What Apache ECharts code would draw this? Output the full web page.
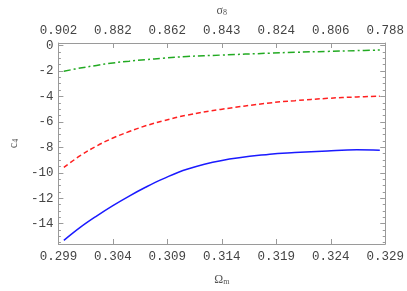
<!DOCTYPE html>
<html><head><meta charset="utf-8">
<script src="https://cdn.jsdelivr.net/npm/echarts@6/dist/echarts.min.js"></script>
<style>html,body{margin:0;padding:0;background:#fff}#c{width:407px;height:291px}</style>
</head><body><div id="c"></div>
<script>
var omega   = [0.2995, 0.3010, 0.3025, 0.3040, 0.3055, 0.3070, 0.3086, 0.3108, 0.3139, 0.3184, 0.3207, 0.3237, 0.3264, 0.3285];
var blueC4  = [-15.31, -14.29, -13.40, -12.58, -11.83, -11.14, -10.48, -9.72, -9.05, -8.54, -8.41, -8.28, -8.20, -8.23];
var redC4   = [-9.58, -8.66, -7.90, -7.27, -6.76, -6.31, -5.92, -5.47, -5.02, -4.51, -4.33, -4.15, -4.04, -3.98];
var greenC4 = [-2.02, -1.77, -1.56, -1.37, -1.23, -1.11, -1.00, -0.86, -0.75, -0.60, -0.53, -0.46, -0.40, -0.35];
var omegaTicks = [0.299, 0.304, 0.309, 0.314, 0.319, 0.324, 0.329];
var sigma8Labels = ['0.902', '0.882', '0.862', '0.843', '0.824', '0.806', '0.788'];
var c4Ticks = [0, -2, -4, -6, -8, -10, -12, -14];
var c4Minor = [];
for (var v = 0; v >= -15.5; v -= 0.5) c4Minor.push(v);

function pairs(ys){ return omega.map(function(x,i){ return [x, ys[i]]; }); }

var frameColor = '#9a9a9a';
var labelStyle = { fontFamily: 'Liberation Mono', fontSize: 12.5, color: '#444' };
var nameRich = {
  m: { fontFamily: 'Liberation Serif', fontSize: 12, color: '#555', verticalAlign: 'bottom', lineHeight: 16 },
  s: { fontFamily: 'Liberation Serif', fontSize: 8, color: '#555', verticalAlign: 'bottom', lineHeight: 12 }
};
var yMin = -15.6, yMax = 0.2;
var chart = echarts.init(document.getElementById('c'), null, { renderer: 'canvas' });
chart.setOption({
  animation: false,
  backgroundColor: '#fff',
  grid: { left: 51, right: 21, top: 42, bottom: 42, containLabel: false },
  xAxis: [
    { type: 'value', position: 'bottom', min: 0.299, max: 0.329,
      name: '{m|Ω}{s|m}', nameLocation: 'middle', nameGap: 26, nameTextStyle: { rich: nameRich },
      axisLine: { show: true, onZero: false, lineStyle: { color: frameColor, width: 1 } },
      axisTick: { show: true, inside: true, length: 5, customValues: omegaTicks, lineStyle: { color: frameColor } },
      axisLabel: { show: true, customValues: omegaTicks, margin: 6, fontFamily: labelStyle.fontFamily, fontSize: labelStyle.fontSize, color: labelStyle.color,
        formatter: function(v){ return v.toFixed(3); } },
      splitLine: { show: false } },
    { type: 'value', position: 'top', min: 0.299, max: 0.329,
      name: '{m|σ}{s|8}', nameLocation: 'middle', nameGap: 26, nameTextStyle: { rich: nameRich },
      axisLine: { show: true, onZero: false, lineStyle: { color: frameColor, width: 1 } },
      axisTick: { show: true, inside: true, length: 5, customValues: omegaTicks, lineStyle: { color: frameColor } },
      axisLabel: { show: true, customValues: omegaTicks, margin: 6, fontFamily: labelStyle.fontFamily, fontSize: labelStyle.fontSize, color: labelStyle.color,
        formatter: function(v){
          var best = 0, bd = 1e9;
          for (var i = 0; i < omegaTicks.length; i++) { var d = Math.abs(omegaTicks[i] - v); if (d < bd) { bd = d; best = i; } }
          return sigma8Labels[best];
        } },
      splitLine: { show: false } }
  ],
  yAxis: [
    { type: 'value', position: 'left', min: yMin, max: yMax,
      name: '{m|c}{s|4}', nameLocation: 'middle', nameGap: 33, nameRotate: 90, nameTextStyle: { rich: nameRich },
      axisLine: { show: true, onZero: false, lineStyle: { color: frameColor, width: 1 } },
      axisTick: { show: true, inside: true, length: 5, customValues: c4Ticks, lineStyle: { color: frameColor } },
      axisLabel: { show: true, customValues: c4Ticks, margin: 5, fontFamily: labelStyle.fontFamily, fontSize: labelStyle.fontSize, color: labelStyle.color },
      splitLine: { show: false } },
    { type: 'value', position: 'right', min: yMin, max: yMax,
      axisLine: { show: true, onZero: false, lineStyle: { color: frameColor, width: 1 } },
      axisTick: { show: true, inside: true, length: 5, customValues: c4Ticks, lineStyle: { color: frameColor } },
      axisLabel: { show: false }, splitLine: { show: false } },
    { type: 'value', position: 'left', min: yMin, max: yMax,
      axisLine: { show: false },
      axisTick: { show: true, inside: true, length: 2.5, customValues: c4Minor, lineStyle: { color: frameColor } },
      axisLabel: { show: false }, splitLine: { show: false } },
    { type: 'value', position: 'right', min: yMin, max: yMax,
      axisLine: { show: false },
      axisTick: { show: true, inside: true, length: 2.5, customValues: c4Minor, lineStyle: { color: frameColor } },
      axisLabel: { show: false }, splitLine: { show: false } }
  ],
  series: [
    { type: 'line', data: pairs(blueC4), smooth: 0.4, symbol: 'none', clip: false,
      lineStyle: { color: '#1a1aff', width: 1.5, type: 'solid' } },
    { type: 'line', data: pairs(redC4), smooth: 0.4, symbol: 'none', clip: false,
      lineStyle: { color: '#ff2020', width: 1.5, type: [5, 3] } },
    { type: 'line', data: pairs(greenC4), smooth: 0.4, symbol: 'none', clip: false,
      lineStyle: { color: '#22aa22', width: 1.5, type: [7, 3, 2, 3] } }
  ]
});
</script></body></html>
